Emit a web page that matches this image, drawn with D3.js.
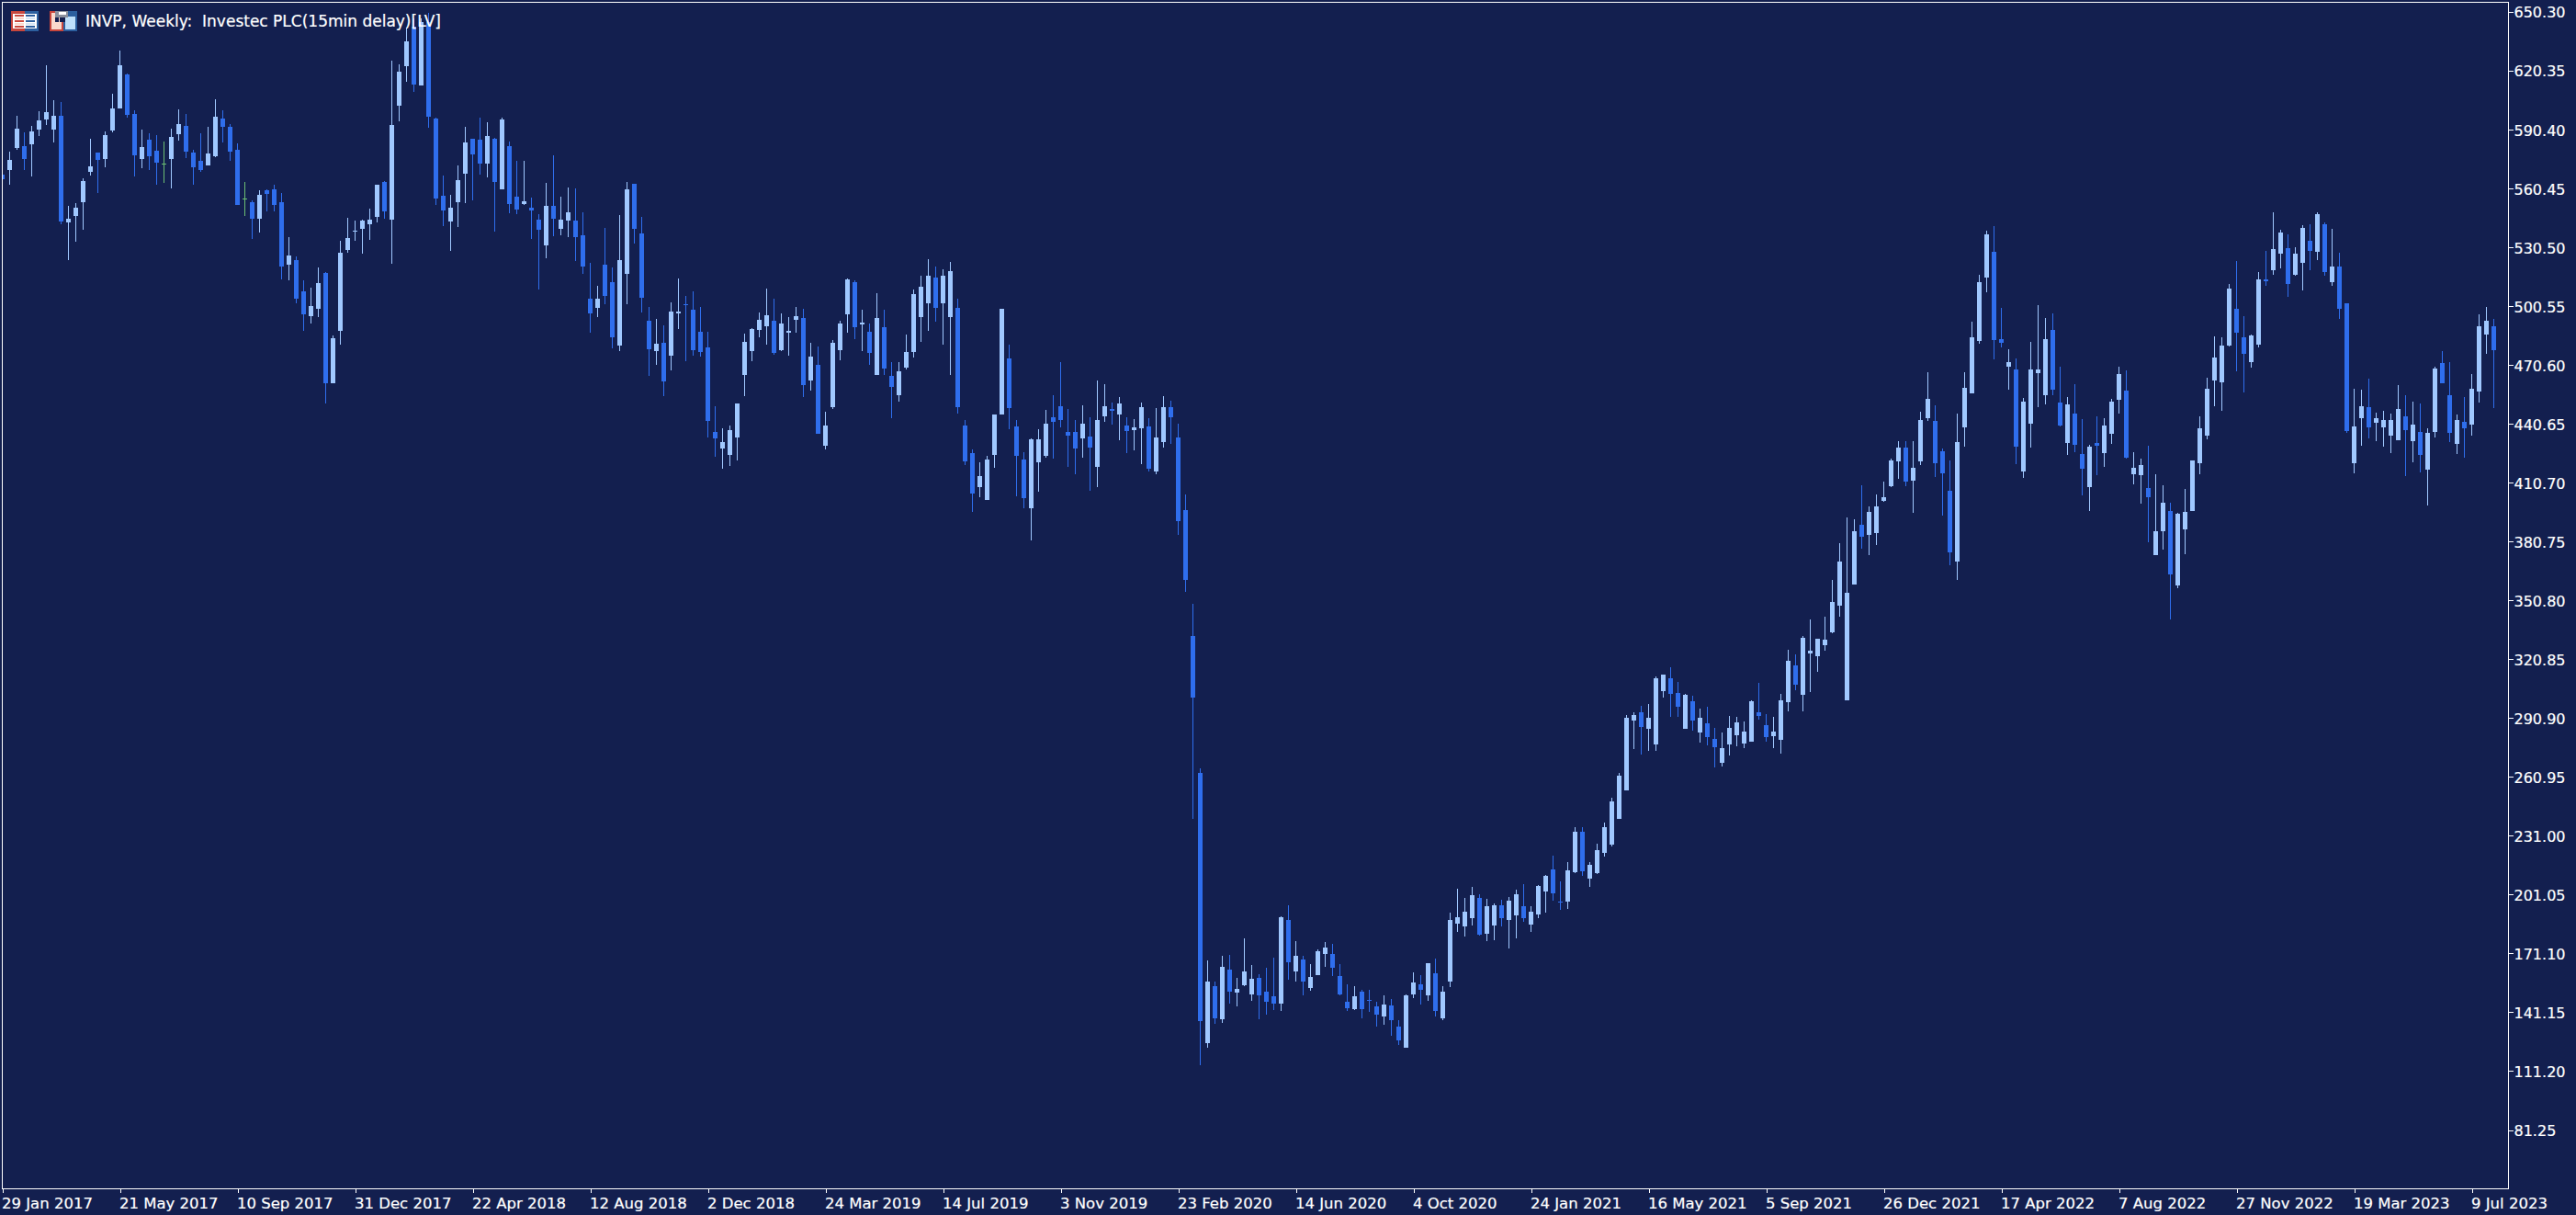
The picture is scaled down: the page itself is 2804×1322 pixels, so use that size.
<!DOCTYPE html>
<html>
<head>
<meta charset="utf-8">
<title>INVP, Weekly</title>
<script src="https://cdn.jsdelivr.net/npm/d3@7/dist/d3.min.js"></script>
<style>
html,body{margin:0;padding:0;background:#131F4F;overflow:hidden}
svg{display:block}
text{font-family:"DejaVu Sans",sans-serif;fill:#fff;stroke:#fff;stroke-width:0.2px}
</style>
</head>
<body>
<div id="chart"></div>
<script>
const priceLabels = [650.30,620.35,590.40,560.45,530.50,500.55,470.60,440.65,410.70,380.75,350.80,320.85,290.90,260.95,231.00,201.05,171.10,141.15,111.20,81.25];
const dateLabels = ["29 Jan 2017","21 May 2017","10 Sep 2017","31 Dec 2017","22 Apr 2018","12 Aug 2018","2 Dec 2018","24 Mar 2019","14 Jul 2019","3 Nov 2019","23 Feb 2020","14 Jun 2020","4 Oct 2020","24 Jan 2021","16 May 2021","5 Sep 2021","26 Dec 2021","17 Apr 2022","7 Aug 2022","27 Nov 2022","19 Mar 2023","9 Jul 2023"];
const barsPerLabel = 16;
const titleText = "INVP, Weekly:  Investec PLC(15min delay)[LV]";

const highs = [
568,578.7,597.0,588.6,591.8,599.3,622.7,604.9,604.0,551.2,
552.6,565.2,585.3,578.3,589.0,608.2,630.2,618.5,599.8,590.0,
588.1,587.2,583.9,590.4,600.3,597.9,579.7,588.1,591.4,605.4,
599.8,592.8,583.0,563.3,554.0,559.1,559.6,561.9,557.7,535.3,
525.4,513.3,509.5,519.8,517.5,485.2,533.4,545.1,543.7,544.1,
549.8,561.9,563.8,625.0,623.2,641.9,646.6,646.6,649.4,596.0,
566.6,556.8,571.7,591.4,585.3,596.0,593.7,585.8,596.0,583.9,
574.1,574.1,555.4,546.9,562.9,576.9,555.8,560.5,560.1,547.9,
522.2,510.5,540.0,519.9,546.5,563.3,562.4,545.6,499.8,493.6,
490.4,502.1,514.2,505.4,507.7,499.8,487.1,449.3,438.0,439.4,
450.7,486.2,489.0,497.0,509.1,504.0,496.5,494.6,499.8,498.8,
481.5,479.6,446.4,482.9,492.7,514.2,513.3,498.3,491.3,506.8,
498.3,471.7,471.7,485.7,508.6,515.6,524.0,520.3,518.9,522.7,
504.0,442.2,427.2,420.7,424.1,445.1,498.8,480.6,442.4,425.7,
432.9,437.4,447.5,454.9,471.8,447.9,442.2,449.6,443.6,462.5,
460.6,451.0,453.9,443.6,442.7,451.0,443.2,448.4,454.4,452.0,
440.3,404.3,348.7,264.9,167.4,156.6,169.5,170.0,158.3,178.6,
165.0,160.2,163.5,168.5,189.8,195.4,177.1,169.7,165.5,172.9,
176.7,175.7,165.5,155.2,154.2,152.4,152.4,146.3,149.6,147.7,
136.9,150.0,161.2,159.8,165.9,168.2,154.2,191.6,203.8,199.1,
204.7,201.0,198.6,196.3,198.2,199.6,203.3,206.1,194.9,205.6,
210.8,220.6,207.5,217.3,235.1,235.1,217.3,226.7,237.4,250.1,
262.7,292.2,293.6,296.8,297.8,311.8,312.7,316.5,309.0,302.9,
302.0,295.4,296.3,285.6,283.3,291.7,291.2,288.9,299.6,308.5,
292.6,291.2,302.9,325.4,323.0,332.4,340.8,331.0,342.2,360.9,
379.6,392.7,391.7,409.0,398.3,404.3,410.9,422.6,431.5,431.5,
431.5,446.4,466.5,449.7,427.7,421.6,445.5,466.5,492.3,516.1,
538.5,540.9,499.3,478.2,473.6,453.5,482.0,500.7,494.1,496.5,
469.3,453.9,460.5,442.7,429.6,444.1,443.2,453.0,469.3,467.5,
425.9,422.6,429.1,414.6,409.0,400.1,395.0,407.2,421.7,444.1,
463.7,484.8,484.3,511.4,523.1,495.0,485.7,517.5,528.3,547.9,
539.0,536.7,530.1,541.4,541.8,547.9,542.8,539.5,527.3,501.6,
458.1,457.7,463.3,446.0,446.9,445.5,460.0,454.9,451.6,450.6,
438.0,469.3,477.3,471.7,445.0,453.9,465.6,496.0,499.8,493.7];

const lows = [
563,562.1,579.8,569.4,566.1,586.7,592.3,583.4,541.8,523.6,
532.9,539.0,566.6,557.7,570.8,588.6,600.7,596.0,566.1,570.3,
569.4,561.9,562.9,560.0,584.4,575.5,561.9,568.5,571.7,575.9,
583.4,574.1,551.6,546.0,534.3,537.6,548.4,548.4,513.8,513.3,
501.6,487.6,491.3,494.6,450.6,460.9,480.6,527.3,533.4,526.8,
533.9,542.7,544.6,521.7,594.2,614.3,609.1,612.4,590.9,551.6,
540.9,528.3,540.4,552.6,554.0,567.1,565.6,538.1,559.6,547.4,
546.9,551.6,534.3,508.6,524.5,535.7,536.2,535.3,523.1,516.6,
486.6,494.6,501.2,478.7,477.3,501.2,532.0,496.9,464.7,470.3,
454.4,467.5,488.5,472.2,475.0,474.5,433.4,423.5,417.4,418.9,
421.7,454.4,472.2,484.3,480.6,475.4,477.3,475.0,486.6,453.9,
457.2,435.2,427.3,447.9,472.6,486.6,483.4,477.3,470.3,465.2,
465.2,443.2,451.6,467.9,474.0,482.0,487.6,492.3,480.6,465.1,
445.5,419.5,395.4,402.8,401.6,417.9,445.1,437.4,403.3,397.4,
380.9,405.7,423.1,422.6,438.4,418.3,414.5,423.1,406.2,408.1,
441.2,439.8,431.9,425.5,426.7,419.8,416.0,414.5,428.1,430.0,
383.8,354.9,239.2,113.9,122.8,134.9,135.4,145.2,144.0,154.2,
146.6,137.3,139.7,142.1,141.6,157.5,156.6,149.6,151.9,159.8,
164.1,159.4,149.6,141.6,142.1,137.9,141.1,133.7,134.6,129.0,
124.3,122.9,148.1,144.9,146.8,138.8,136.9,153.8,181.8,179.5,
185.1,180.0,177.1,177.6,184.6,173.4,178.5,187.0,181.8,188.8,
191.6,197.7,193.0,193.5,211.7,210.3,204.7,211.3,220.1,225.3,
239.3,253.8,274.9,272.0,273.9,273.9,301.0,291.2,291.2,285.1,
284.2,278.1,276.7,265.5,266.0,271.6,276.2,275.3,278.6,289.8,
278.6,275.3,272.5,294.0,304.8,294.0,303.9,314.1,324.9,333.8,
342.2,299.6,358.5,376.8,373.5,378.6,400.6,408.1,412.3,408.5,
395.0,419.3,441.8,413.2,393.6,368.3,360.9,428.7,455.8,481.0,
507.2,473.1,479.2,457.7,419.8,412.8,428.2,448.8,450.2,454.9,
439.0,424.5,425.9,403.9,395.9,414.2,418.4,430.1,445.5,422.6,
409.5,399.7,380.1,373.5,376.3,340.8,356.7,374.0,395.9,414.6,
432.4,449.3,446.9,479.6,467.0,456.3,468.9,479.2,510.5,516.1,
519.4,504.9,515.6,508.2,518.4,523.6,515.6,510.5,493.7,435.7,
415.1,429.1,432.9,431.5,428.7,425.4,431.9,413.7,420.7,415.6,
398.7,433.4,460.9,431.0,424.9,423.1,434.3,451.1,475.9,448.3];

const opens = [
567.1,569.4,580.6,581.6,582.5,590.0,595.1,590.0,597.0,542.7,
546.0,553.0,568.5,578.3,575.0,589.5,600.7,618.0,597.9,575.0,
584.8,579.2,572.5,575.0,587.6,591.8,578.3,574.1,571.7,576.4,
595.6,591.4,579.7,554.7,553.0,544.6,559.1,559.6,553.0,521.2,
523.6,507.7,495.1,498.8,517.0,460.9,487.6,528.7,538.2,539.5,
541.8,545.6,563.3,544.1,602.1,622.2,642.3,612.4,644.7,595.6,
556.3,543.2,553.0,567.5,585.3,584.9,572.7,585.3,559.6,581.6,
555.8,552.1,550.2,544.1,531.1,551.2,539.5,543.7,543.7,536.2,
504.0,499.3,521.2,512.4,480.1,516.6,562.4,537.2,492.7,477.3,
481.5,475.0,496.5,501.2,498.3,487.1,479.2,436.2,427.7,424.5,
433.4,465.2,477.3,488.0,490.0,492.7,477.8,486.6,493.2,494.1,
462.3,470.3,429.1,448.8,477.8,496.0,512.4,490.9,487.1,465.2,
489.5,464.7,454.9,468.9,476.8,494.6,501.6,514.7,501.6,494.6,
499.3,439.3,425.5,408.1,401.6,424.6,445.1,473.6,438.9,422.2,
397.4,420.7,423.8,443.6,449.1,436.2,436.2,432.9,433.8,418.3,
444.1,447.9,445.1,439.3,437.2,437.9,438.9,416.0,431.0,448.9,
433.4,396.4,332.2,262.6,125.2,154.2,137.3,162.6,150.9,154.7,
149.9,158.3,151.4,149.0,145.2,187.9,161.7,167.8,153.3,159.8,
170.6,170.6,159.4,146.3,142.5,151.4,147.2,143.9,138.8,144.4,
133.7,122.9,150.0,155.2,149.6,160.8,137.9,156.6,186.0,184.6,
188.8,199.1,180.9,185.1,195.4,187.9,190.2,194.9,185.5,190.7,
202.4,213.6,197.2,197.2,212.2,232.8,208.9,211.7,222.0,226.2,
239.3,253.8,289.4,293.6,285.1,277.2,304.3,310.8,303.4,285.1,
299.2,283.3,288.0,280.0,267.8,277.2,281.9,277.6,278.6,293.6,
287.0,281.4,279.5,298.7,317.4,302.4,323.5,322.1,327.7,334.3,
347.8,299.6,358.5,388.9,383.8,384.7,401.1,408.5,421.2,428.2,
411.4,421.2,443.2,441.8,426.3,406.2,370.2,438.5,455.8,482.4,
514.7,527.8,483.4,469.3,468.0,416.0,440.4,466.1,454.9,488.1,
451.1,430.5,445.5,424.9,408.1,430.5,425.4,435.2,452.5,457.2,
414.6,414.2,407.6,373.5,385.7,395.9,358.1,386.6,395.9,420.3,
434.3,462.3,461.4,480.1,498.8,484.3,471.7,480.6,513.8,518.4,
526.9,529.7,516.1,522.2,533.4,527.8,541.8,512.4,520.3,501.6,
420.3,443.2,448.8,440.8,438.5,434.3,431.9,444.1,431.5,436.2,
417.0,436.2,471.2,454.9,430.1,441.3,439.9,456.7,485.7,489.9];

const closes = [
564.9,574.5,590.4,575.0,589.0,594.6,598.9,597.0,543.2,544.6,
550.2,563.8,571.3,574.5,587.2,600.7,622.7,597.5,576.9,581.1,
576.4,573.1,572.5,586.2,592.8,578.7,570.8,569.4,577.8,596.5,
591.4,578.7,551.6,554.7,544.6,556.8,557.2,551.6,520.3,525.9,
503.9,496.0,500.2,511.9,460.9,483.8,527.3,534.8,538.5,543.7,
544.1,561.9,548.4,592.3,619.4,634.9,612.9,644.7,596.5,554.9,
548.8,550.2,564.3,583.4,577.4,572.7,586.7,563.3,595.1,552.1,
549.3,553.5,548.8,539.0,551.2,544.6,544.1,547.9,535.3,520.3,
496.5,504.0,505.4,484.3,523.6,559.6,539.5,504.4,478.2,481.0,
461.9,497.4,497.4,500.7,477.8,476.8,441.8,432.9,431.0,437.1,
450.7,482.0,488.5,493.2,495.5,476.4,491.3,487.6,495.1,460.0,
474.5,435.2,439.4,481.5,491.3,513.8,489.5,491.8,476.4,494.1,
468.4,459.1,467.0,476.8,506.3,510.0,515.6,499.3,515.6,518.0,
448.8,421.4,405.0,413.8,422.2,445.1,498.8,448.4,424.1,402.4,
432.4,432.4,440.3,441.2,442.2,434.3,427.6,440.3,428.1,442.2,
449.1,446.9,450.6,436.7,438.4,448.9,417.4,433.4,448.9,443.6,
390.7,360.9,301.0,136.3,156.6,137.8,164.0,151.4,152.8,161.6,
157.8,149.5,146.1,145.2,189.3,166.4,169.7,156.6,158.9,172.0,
173.9,163.6,150.0,143.0,149.1,142.5,146.8,139.7,144.9,136.9,
126.6,149.6,156.1,152.4,165.9,141.6,151.4,187.9,189.3,192.1,
200.5,180.4,194.9,195.4,188.8,197.7,201.0,188.8,192.1,205.2,
210.3,201.4,196.8,213.1,232.8,212.7,215.9,223.4,235.1,248.2,
261.3,290.8,292.2,286.1,290.8,310.8,312.7,302.9,296.3,302.4,
289.4,290.8,280.9,275.8,275.3,285.6,288.4,283.7,299.2,291.7,
280.9,283.7,299.6,319.7,307.6,331.4,324.9,331.0,330.5,349.7,
370.2,354.3,385.7,382.8,395.5,398.3,402.9,421.6,428.2,410.9,
417.9,442.2,453.0,420.3,415.1,374.9,431.0,458.6,484.3,512.4,
536.7,482.9,481.5,471.7,428.7,451.6,468.0,468.0,483.4,457.7,
439.4,450.2,429.6,417.5,428.7,429.1,439.4,451.6,465.6,423.1,
417.9,419.3,403.0,385.7,400.1,363.7,394.6,395.5,421.7,438.0,
458.1,474.0,480.1,509.1,486.6,475.9,485.2,513.8,512.8,529.2,
537.6,511.4,526.9,540.0,528.3,547.0,517.5,520.3,498.8,436.6,
438.9,449.3,438.5,443.2,442.2,442.2,447.8,437.1,439.9,424.5,
435.7,468.4,460.9,435.7,442.2,438.0,458.1,489.9,492.7,477.8];

const W = 2804, H = 1322;
const frame = {left: 2, top: 2, right: 2730, bottom: 1293};
const BG = "#131F4F", UP = "#A0C8FF", DOWN = "#2F6EED", DOJI = "#6CBF73", LINE = "#FFFFFF";

const x = d3.scaleLinear().domain([0, 8]).range([2, 66]);
const y = d3.scaleLinear().domain([650.30, 81.25]).range([12, 1229]);
const bars = d3.range(opens.length);
const color = i => closes[i] > opens[i] ? UP : closes[i] < opens[i] ? DOWN : DOJI;

const svg = d3.select("#chart").append("svg").attr("width", W).attr("height", H).attr("viewBox", `0 0 ${W} ${H}`);
svg.append("rect").attr("width", W).attr("height", H).attr("fill", BG);

svg.append("clipPath").attr("id", "plot").append("rect")
  .attr("x", frame.left + 1).attr("y", frame.top + 1)
  .attr("width", frame.right - frame.left - 1).attr("height", frame.bottom - frame.top - 1);

const plot = svg.append("g").attr("clip-path", "url(#plot)").attr("shape-rendering", "crispEdges");

plot.selectAll("rect.wick").data(bars).join("rect").attr("class", "wick")
  .attr("x", i => x(i)).attr("width", 1)
  .attr("y", i => Math.round(y(highs[i])))
  .attr("height", i => Math.max(1, Math.round(y(lows[i])) - Math.round(y(highs[i]))))
  .attr("fill", color);

plot.selectAll("rect.body").data(bars).join("rect").attr("class", "body")
  .attr("x", i => x(i) - 2).attr("width", 5)
  .attr("y", i => Math.round(y(Math.max(opens[i], closes[i]))))
  .attr("height", i => Math.max(1, Math.round(y(Math.min(opens[i], closes[i]))) - Math.round(y(Math.max(opens[i], closes[i])))))
  .attr("fill", color);

// frame
svg.append("g").attr("shape-rendering", "crispEdges").selectAll("rect")
  .data([
    [frame.left, frame.top, frame.right - frame.left + 1, 1],
    [frame.left, frame.bottom, frame.right - frame.left + 1, 1],
    [frame.left, frame.top, 1, frame.bottom - frame.top + 1],
    [frame.right, frame.top, 1, frame.bottom - frame.top + 1]
  ]).join("rect")
  .attr("x", d => d[0]).attr("y", d => d[1]).attr("width", d => d[2]).attr("height", d => d[3]).attr("fill", LINE);

// price axis
const yAxis = svg.append("g").attr("transform", `translate(${frame.right + 0.5},0.5)`)
  .call(d3.axisRight(y).tickValues(priceLabels).tickFormat(d3.format(".2f")).tickSize(5).tickPadding(1));
yAxis.select(".domain").remove();
yAxis.selectAll("line").attr("stroke", LINE).attr("shape-rendering", "crispEdges");
yAxis.selectAll("text").attr("font-size", 16).attr("font-family", '"DejaVu Sans"').attr("fill", LINE).attr("dy", "0.40em");

// date axis
const tickIdx = dateLabels.map((_, k) => k * barsPerLabel);
const xAxis = svg.append("g").attr("transform", `translate(0.5,${frame.bottom + 0.5})`)
  .call(d3.axisBottom(x).tickValues(tickIdx).tickFormat((_, k) => dateLabels[k]).tickSize(4).tickPadding(6));
xAxis.select(".domain").remove();
xAxis.selectAll("line").attr("stroke", LINE).attr("shape-rendering", "crispEdges");
xAxis.selectAll("text").attr("text-anchor", "start").attr("font-size", 16.5).attr("font-family", '"DejaVu Sans"').attr("fill", LINE).attr("dx", "-1");

// title icons
const icons = svg.append("g").attr("shape-rendering", "crispEdges");
const box = (g, X, Y, w, h, f) => g.append("rect").attr("x", X).attr("y", Y).attr("width", w).attr("height", h).attr("fill", f);
const RED = "#C8463C", BLU = "#2C5F9E", PALE = "#FBD9CC", SKY = "#BFE0FA";
box(icons, 12, 12, 15, 22, RED); box(icons, 27, 12, 15, 22, BLU);
box(icons, 14, 15, 26, 16, "#FFFFFF");
box(icons, 16, 16, 10, 2, RED); box(icons, 16, 22, 10, 2, RED); box(icons, 16, 28, 10, 2, RED);
box(icons, 16, 19, 10, 2, PALE); box(icons, 16, 25, 10, 2, PALE);
box(icons, 28, 16, 10, 2, BLU); box(icons, 28, 22, 10, 2, BLU); box(icons, 28, 28, 10, 2, BLU);
box(icons, 28, 19, 10, 2, "#D6E6F5"); box(icons, 28, 25, 10, 2, "#D6E6F5");
box(icons, 54, 12, 15, 22, RED); box(icons, 69, 12, 15, 22, BLU);
box(icons, 56, 14, 11, 18, PALE); box(icons, 71, 18, 11, 14, SKY);
box(icons, 60, 12, 14, 7, "#8A8F9C"); box(icons, 64, 13, 8, 3, "#FFFFFF");
box(icons, 60, 19, 4, 5, BG); box(icons, 65, 19, 6, 5, BG);

// title
svg.append("text").attr("x", 93).attr("y", 29).attr("font-size", 17)
  .style("white-space", "pre").attr("font-family", '"DejaVu Sans"').attr("fill", LINE)
  .attr("textLength", 387).attr("lengthAdjust", "spacingAndGlyphs")
  .text(titleText);
</script>
</body>
</html>
